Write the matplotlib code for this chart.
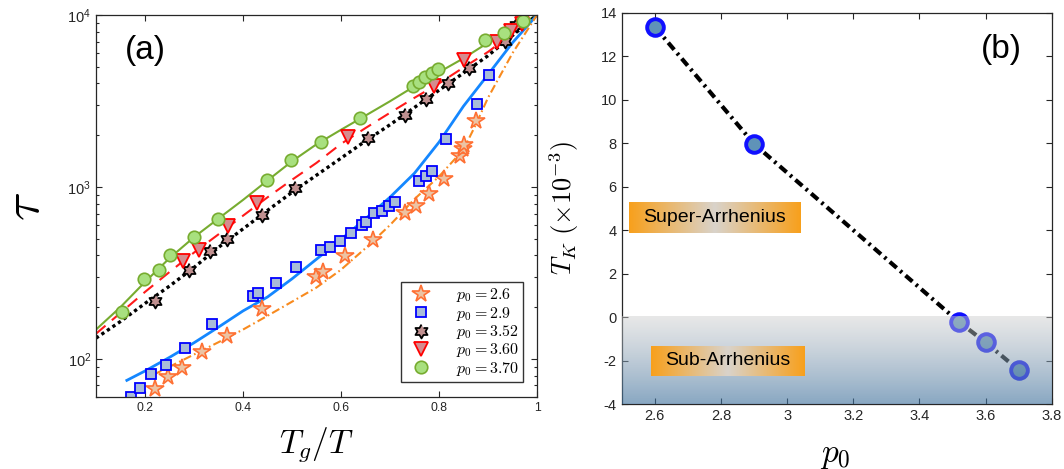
import numpy as np
import matplotlib
matplotlib.use('Agg')
from matplotlib import pyplot as plt
from matplotlib.ticker import FuncFormatter, NullFormatter, MultipleLocator
from matplotlib.colors import LinearSegmentedColormap

plt.rcParams.update({'font.family': ['Liberation Sans', 'DejaVu Sans'],
                     'mathtext.fontset': 'cm',
                     'axes.unicode_minus': False})

# ---- panel (a): tau vs Tg/T, markers = simulation, lines = fits ----
x26 = [0.221, 0.247, 0.276, 0.316, 0.368, 0.439, 0.549, 0.563, 0.609, 0.665,
       0.730, 0.754, 0.780, 0.811, 0.842, 0.849, 0.852, 0.876]
y26 = [66.7, 78, 88, 110, 135, 194, 301, 322, 394, 492,
       710, 779, 914, 1109, 1521, 1663, 1746, 2420]

x29 = [0.171, 0.189, 0.212, 0.242, 0.281, 0.337, 0.420, 0.430, 0.467, 0.509,
       0.559, 0.577, 0.598, 0.620, 0.643, 0.651, 0.668, 0.684, 0.698, 0.710,
       0.759, 0.774, 0.785, 0.815, 0.878, 0.903]
y29 = [60, 67.5, 81.8, 92.7, 115, 160, 232, 241, 275, 340,
       429, 450, 488, 542, 601, 629, 703, 725, 778, 818,
       1089, 1164, 1240, 1909, 3042, 4459]

x352 = [0.221, 0.289, 0.332, 0.367, 0.438, 0.507, 0.656, 0.730, 0.773, 0.819,
        0.862, 0.934, 0.957]
y352 = [218, 327, 423, 501, 684, 986, 1918, 2625, 3252, 4010,
        4917, 7060, 8790]

x360 = [0.278, 0.311, 0.370, 0.428, 0.615, 0.790, 0.852, 0.919, 0.947, 0.969]
y360 = [373, 432, 596, 807, 1954, 3865, 5473, 6930, 8110, 8870]

x370 = [0.153, 0.198, 0.228, 0.252, 0.300, 0.348, 0.450, 0.498, 0.560, 0.639,
        0.746, 0.759, 0.772, 0.785, 0.798, 0.894, 0.932, 0.971]
y370 = [187, 290, 327, 403, 514, 652, 1104, 1436, 1829, 2529,
        3883, 4092, 4342, 4626, 4874, 7165, 7894, 9230]

# fit curves
fx26 = [0.218, 0.3, 0.35, 0.4, 0.45, 0.5, 0.55, 0.6, 0.65, 0.7, 0.75, 0.8,
        0.85, 0.875, 0.9, 0.95, 1.0]
fy26 = [81, 106, 125, 148, 178, 215, 260, 330, 440, 600, 850, 1150,
        1650, 2300, 3300, 6000, 10000]

fx29 = [0.163, 0.2, 0.25, 0.3, 0.35, 0.4, 0.45, 0.5, 0.55, 0.6, 0.65, 0.7,
        0.75, 0.8, 0.85, 0.9, 0.95, 1.0]
fy29 = [75, 85, 102, 124, 153, 190, 229, 292, 380, 495, 653, 871,
        1202, 1820, 2950, 4500, 6900, 10000]

fx_grid = [0.1, 0.15, 0.2, 0.25, 0.3, 0.35, 0.4, 0.45, 0.5, 0.55, 0.6, 0.65,
           0.7, 0.75, 0.8, 0.85, 0.9, 0.95, 1.0]
fy352 = [132, 165, 210, 265, 340, 445, 570, 730, 930, 1170, 1470, 1850,
         2300, 2900, 3650, 4600, 5800, 7600, 10000]
fy360 = [140, 185, 245, 320, 415, 530, 680, 870, 1100, 1380, 1780, 2200,
         2700, 3300, 4000, 4950, 6100, 7800, 10000]
fy370 = [148, 200, 280, 385, 510, 655, 840, 1090, 1410, 1770, 2150, 2600,
         3150, 3850, 4650, 5600, 6900, 8300, 10000]

# ---- panel (b): T_K vs p0 ----
p0 = [2.6, 2.9, 3.52, 3.6, 3.7]
TK = [13.35, 7.97, -0.22, -1.15, -2.42]

fig = plt.figure(figsize=(10.64, 4.69), dpi=100)
axa = fig.add_axes([0.0902, 0.1535, 0.4145, 0.8145])
axb = fig.add_axes([0.5843, 0.138, 0.4041, 0.835])

# hexagram marker
ang = np.deg2rad(90 + 30 * np.arange(12))
rad = np.where(np.arange(12) % 2 == 0, 1.0, 0.577)
hexagram = list(zip(rad * np.cos(ang), rad * np.sin(ang)))

axa.plot(fx_grid, fy370, color='#77ac30', lw=1.5)
axa.plot(fx_grid, fy360, color='#ff1a1a', lw=1.5, ls=(0, (6, 4)))
axa.plot(fx_grid, fy352, color='black', lw=2.4, ls=(0, (1, 1)))
axa.plot(fx29, fy29, color='#1487ff', lw=2)
axa.plot(fx26, fy26, color='#f88a1e', lw=1.5, ls=(0, (4, 1.6, 0.8, 1.6)))

axa.plot(x26, y26, ls='none', marker='*', ms=13, mfc='#ecc3a3', mec='#ff7033',
         mew=1.2, label='$p_0 = 2.6$')
axa.plot(x29, y29, ls='none', marker='s', ms=6.5, mfc='#a9bcd8', mec='#0000ff',
         mew=1.3, label='$p_0 = 2.9$')
axa.plot(x352, y352, ls='none', marker=hexagram, ms=10, mfc='#c09090', mec='black',
         mew=1.3, label='$p_0 = 3.52$')
axa.plot(x360, y360, ls='none', marker='v', ms=10, mfc='#d58c8f', mec='#ff0000',
         mew=1.3, label='$p_0 = 3.60$')
axa.plot(x370, y370, ls='none', marker='o', ms=9, mfc='#a8e07f', mec='#77ac30',
         mew=1.2, label='$p_0 = 3.70$')

axa.set_yscale('log')
axa.set_xlim(0.1, 1)
axa.set_ylim(60, 1e4)
axa.set_xticks([0.2, 0.4, 0.6, 0.8, 1.0])
axa.xaxis.set_major_formatter(FuncFormatter(lambda v, p: '%g' % v))
axa.yaxis.set_major_formatter(FuncFormatter(lambda v, p: r'$\mathregular{10^{%d}}$' % round(np.log10(v))))
axa.yaxis.set_minor_formatter(NullFormatter())
axa.set_xlabel(r'$T_g/T$', fontsize=24)
axa.xaxis.set_label_coords(0.5, -0.075)
axa.set_ylabel(r'$\tau$', fontsize=38)
axa.yaxis.set_label_coords(-0.105, 0.5)
axa.text(0.113, 0.908, '(a)', transform=axa.transAxes, fontsize=24,
         ha='center', va='center')
leg = axa.legend(loc='lower right', bbox_to_anchor=(0.968, 0.04), borderaxespad=0,
                 fontsize=11.5, fancybox=False, framealpha=1, edgecolor='#333333',
                 labelspacing=0.02, handlelength=2.0, handletextpad=1.2,
                 borderpad=0.25)
leg.get_frame().set_linewidth(1)

# panel (b)
axb.plot(p0, TK, color='black', lw=3, ls=(0, (2.2, 1.1, 0.6, 1.1)), zorder=2)
axb.plot(p0, TK, ls='none', marker='o', ms=12, mfc='#5f93b8', mec='#1010ff',
         mew=2.8, zorder=3)

shade = np.zeros((256, 1, 4))
t = np.linspace(0, 1, 256)[:, None]
top = np.array([204, 204, 204, 0.45 * 255]) / 255
bot = np.array([63, 113, 157, 0.62 * 255]) / 255
shade[:, 0, :] = top * (1 - t) + bot * t
axb.imshow(shade, extent=[2.5, 3.8, -4, 0], aspect='auto', origin='upper',
           zorder=4, interpolation='bilinear')

boxcm = LinearSegmentedColormap.from_list('box', ['#f8a01c', '#d9d3cb', '#f8a01c'])
grad = np.linspace(0, 1, 256)[None, :]
axb.imshow(grad, cmap=boxcm, extent=[2.522, 3.041, 3.88, 5.30], aspect='auto', zorder=5)
axb.imshow(grad, cmap=boxcm, extent=[2.589, 3.054, -2.69, -1.32], aspect='auto', zorder=5)
axb.text(2.781, 4.59, 'Super-Arrhenius', fontsize=14, ha='center', va='center', zorder=6)
axb.text(2.821, -2.0, 'Sub-Arrhenius', fontsize=14, ha='center', va='center', zorder=6)
axb.text(0.882, 0.905, '(b)', transform=axb.transAxes, fontsize=24,
         ha='center', va='center')

axb.set_xlim(2.5, 3.8)
axb.set_ylim(-4, 14)
axb.yaxis.set_major_locator(MultipleLocator(2))
axb.set_xticks([2.6, 2.8, 3.0, 3.2, 3.4, 3.6, 3.8])
axb.xaxis.set_major_formatter(FuncFormatter(lambda v, p: '%g' % round(v, 2)))
axb.set_xlabel(r'$p_0$', fontsize=24)
axb.xaxis.set_label_coords(0.496, -0.09)
axb.set_ylabel(r'$T_K\ (\times 10^{-3})$', fontsize=19)
axb.yaxis.set_label_coords(-0.095, 0.5)

for ax, fs in ((axa, 8.8), (axb, 10.5)):
    ax.tick_params(which='both', direction='in', top=True, right=True,
                   labelsize=fs, colors='#262626', width=0.8)
    ax.tick_params(which='major', length=4)
    ax.tick_params(which='minor', length=2.5)
    for s in ax.spines.values():
        s.set_color('#262626')
        s.set_linewidth(0.9)
axa.tick_params(axis='y', labelsize=10.5)

fig.savefig('out.png', dpi=100)
